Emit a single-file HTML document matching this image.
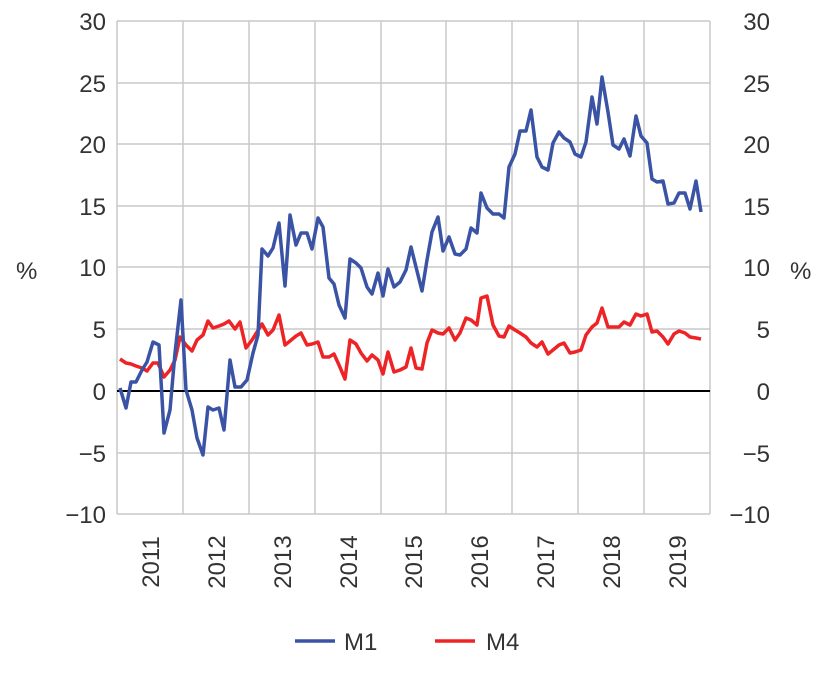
<!DOCTYPE html><html><head><style>body{margin:0;background:#fff}svg{display:block}text{font-family:"Liberation Sans",Arial,sans-serif;fill:#333;font-size:24px}</style></head><body>
<svg width="828" height="686" viewBox="0 0 828 686">
<g stroke="#c8c8c8" stroke-width="1.5">
<line x1="117" y1="21" x2="710" y2="21"/><line x1="117" y1="83" x2="710" y2="83"/><line x1="117" y1="144" x2="710" y2="144"/><line x1="117" y1="206" x2="710" y2="206"/><line x1="117" y1="267" x2="710" y2="267"/><line x1="117" y1="329" x2="710" y2="329"/><line x1="117" y1="453" x2="710" y2="453"/><line x1="117" y1="514" x2="710" y2="514"/>
<line x1="117" y1="21" x2="117" y2="514"/><line x1="183" y1="21" x2="183" y2="514"/><line x1="249" y1="21" x2="249" y2="514"/><line x1="315" y1="21" x2="315" y2="514"/><line x1="381" y1="21" x2="381" y2="514"/><line x1="446" y1="21" x2="446" y2="514"/><line x1="512" y1="21" x2="512" y2="514"/><line x1="578" y1="21" x2="578" y2="514"/><line x1="644" y1="21" x2="644" y2="514"/><line x1="710" y1="21" x2="710" y2="514"/>
</g>
<line x1="117" y1="391" x2="710" y2="391" stroke="#000" stroke-width="2"/>
<g text-anchor="end">
<text x="106" y="30">30</text><text x="106" y="92">25</text><text x="106" y="153">20</text><text x="106" y="215">15</text><text x="106" y="276">10</text><text x="106" y="338">5</text><text x="106" y="400">0</text><text x="106" y="462">−5</text><text x="106" y="523">−10</text>
<text x="770" y="30">30</text><text x="770" y="92">25</text><text x="770" y="153">20</text><text x="770" y="215">15</text><text x="770" y="276">10</text><text x="770" y="338">5</text><text x="770" y="400">0</text><text x="770" y="462">−5</text><text x="770" y="523">−10</text>
</g>
<text x="16" y="279">%</text><text x="790" y="279">%</text>
<g text-anchor="middle">
<text transform="translate(159,562) rotate(-90)">2011</text><text transform="translate(225,562) rotate(-90)">2012</text><text transform="translate(291,562) rotate(-90)">2013</text><text transform="translate(357,562) rotate(-90)">2014</text><text transform="translate(422,562) rotate(-90)">2015</text><text transform="translate(488,562) rotate(-90)">2016</text><text transform="translate(554,562) rotate(-90)">2017</text><text transform="translate(620,562) rotate(-90)">2018</text><text transform="translate(686,562) rotate(-90)">2019</text>
</g>
<g fill="none" stroke-width="3.5" stroke-linejoin="round">
<polyline stroke="#ee2326" points="120,359 126,363 131,364 136,366 142,368 147,371 153,363 158,363 164,377 170,370 175,360 180,337 186,345 192,351 197,340 203,335 208,321 213,328 219,326 224,324 229,321 235,329 240,322 246,348 252,340 257,332 262,324 268,335 273,330 279,315 285,345 290,341 296,336 301,333 307,345 312,344 318,342 323,357 329,357 334,354 339,365 345,379 350,340 356,344 361,353 367,361 372,355 378,360 383,374 388,352 394,372 400,370 406,367 411,348 416,368 422,369 427,343 432,330 438,333 443,334 449,328 455,340 460,333 466,318 471,320 477,325 481,298 487,296 493,325 499,336 504,337 509,326 515,330 520,333 526,337 531,343 537,347 542,342 548,354 553,350 559,345 564,343 570,353 575,352 581,350 586,335 592,327 597,323 602,308 608,327 613,327 619,327 624,322 630,325 636,314 641,316 647,314 652,332 657,331 663,337 668,344 674,334 679,331 685,333 690,337 696,338 701,339"/>
<polyline stroke="#3a53a4" points="120,388 126,408 131,382 136,382 142,370 147,362 153,342 159,345 164,433 170,410 175,353 181,300 186,390 192,410 197,438 203,455 208,407 213,410 219,408 224,430 230,360 235,387 241,387 247,380 253,353 258,335 262,249 268,256 273,248 279,223 285,286 290,215 296,245 301,233 307,233 312,249 318,218 323,227 329,278 334,284 339,305 345,318 350,259 356,263 361,268 367,287 372,294 378,273 383,296 388,269 394,287 400,282 406,270 411,247 416,267 422,291 427,260 432,232 438,217 443,251 449,237 455,254 460,255 466,249 471,228 477,233 481,193 487,208 493,214 499,214 504,218 509,167 515,154 520,131 526,131 531,110 537,157 542,167 548,170 553,143 559,132 564,138 570,142 575,154 581,157 586,142 592,97 597,124 602,77 608,112 613,145 619,149 624,139 630,156 636,116 641,136 647,143 652,179 657,182 663,181 668,204 674,203 679,193 685,193 690,209 696,181 701,212"/>
</g>
<line x1="295" y1="641" x2="335" y2="641" stroke="#3a53a4" stroke-width="3.5"/><text x="344" y="650">M1</text>
<line x1="435" y1="641" x2="475" y2="641" stroke="#ee2326" stroke-width="3.5"/><text x="486" y="650">M4</text>
</svg></body></html>
